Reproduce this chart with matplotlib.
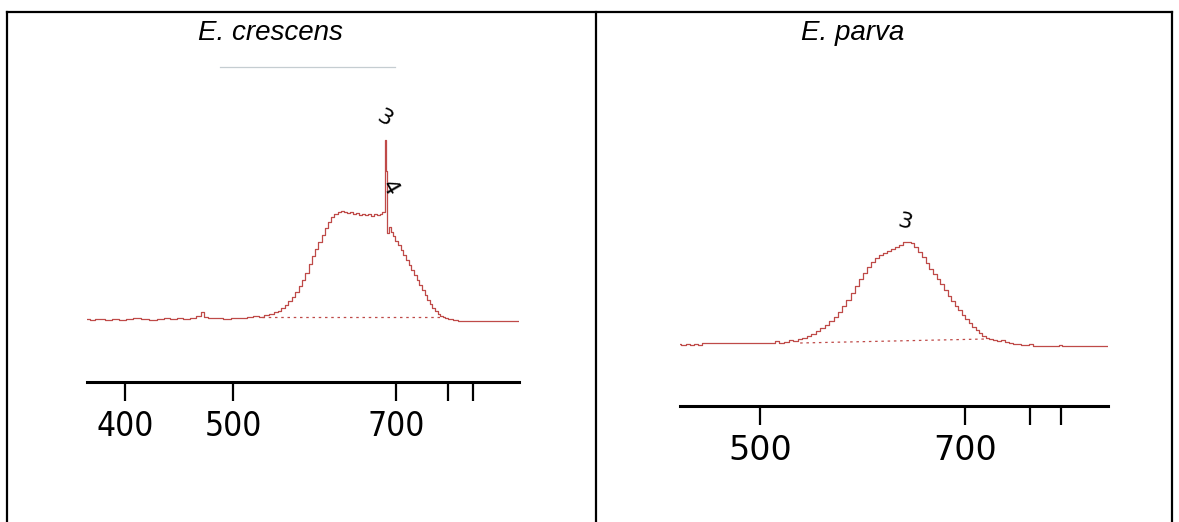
import matplotlib.pyplot as plt
from matplotlib.lines import Line2D
from matplotlib.ticker import FixedLocator, FixedFormatter, NullFormatter

W, H = 1179, 522
RED = '#bf4a48'

# E. crescens spectrum: wavelength (nm) and signal (arbitrary units)
crescens_nm = [370, 374, 378, 382, 386, 392, 398, 404, 410, 416, 424, 430, 436, 442,
               448, 454, 460, 466, 469, 472, 478, 486, 494, 502, 510, 518, 524, 530,
               536, 541, 546, 550, 554, 558, 562, 566, 570, 574, 578, 582, 586, 590,
               594, 598, 602, 606, 610, 614, 618, 622, 626, 630, 634, 638, 642, 646,
               650, 654, 658, 662, 666, 670, 674, 678, 682, 684, 686, 688, 690, 693,
               696, 700, 704, 708, 712, 716, 720, 724, 728, 732, 736, 740, 744, 748,
               752, 756, 760, 764, 768, 772, 776, 782, 790, 800, 820, 850, 880, 902]
crescens_signal = [2, 1, 2, 2, 1, 2, 1, 2, 3, 2, 1, 2, 3, 2,
                   3, 2, 3, 5, 9, 4, 3, 3, 2, 3, 3, 4, 5, 4,
                   6, 7, 9, 10, 13, 16, 20, 24, 29, 35, 41, 48, 57, 65,
                   72, 79, 86, 93, 99, 104, 107, 109, 110, 109, 108, 109, 107, 108,
                   106, 107, 106, 107, 105, 107, 106, 107, 109, 181, 150, 88, 94, 89,
                   85, 80, 76, 71, 66, 61, 56, 51, 46, 41, 36, 31, 26, 21,
                   17, 13, 10, 7, 5, 4, 3, 2, 1, 0, 0, 0, 0, 0]
crescens_base_nm = [531, 768]
crescens_base = [4, 4]
crescens_marks = [('3', 683, 203, -30), ('4', 691, 133, -60)]

# E. parva spectrum
parva_nm = [438, 441, 444, 447, 450, 453, 456, 460, 470, 480, 490, 500, 510, 514,
            518, 522, 526, 530, 534, 538, 542, 546, 550, 554, 558, 562, 566, 570,
            574, 578, 582, 586, 590, 594, 598, 602, 606, 610, 614, 618, 622, 626,
            630, 634, 638, 642, 646, 650, 654, 658, 662, 666, 670, 674, 678, 682,
            686, 690, 694, 698, 702, 706, 710, 714, 718, 722, 726, 730, 735, 740,
            745, 750, 755, 760, 765, 770, 775, 780, 785, 800, 815, 818, 822, 850, 885]
parva_signal = [2, 1, 2, 1, 2, 1, 3, 3, 3, 3, 3, 3, 3, 5,
                3, 4, 6, 5, 7, 8, 10, 12, 15, 18, 21, 25, 29, 34,
                40, 46, 53, 60, 67, 73, 79, 84, 88, 91, 93, 95, 97, 99,
                101, 104, 104, 103, 99, 94, 89, 83, 77, 72, 67, 62, 56, 50,
                45, 40, 36, 31, 27, 23, 19, 16, 13, 10, 8, 7, 6, 5,
                6, 4, 3, 2, 2, 1, 1, 2, 0, 0, 0, 1, 0, 0, 0]
parva_base_nm = [534, 724]
parva_base = [3, 7]
parva_marks = [('3', 634, 124, -15)]

minor_nm = [778, 819]


def fx(x):
    return x / W


def fy(y):
    return 1 - y / H


def panel(rect, nm, signal, base_nm, base, marks, xlim, ylim, ticks, stretch):
    ax = fig.add_axes(rect)
    ax.plot(nm, signal, color=RED, lw=0.9, drawstyle='steps-mid')
    ax.plot(base_nm, base, color=RED, lw=0.9, ls=(0, (2, 3)))
    for txt, x, y, rot in marks:
        ax.text(x, y, txt, fontsize=16, rotation=rot, ha='center', va='center',
                fontweight='medium')
    ax.set_xscale('log')
    ax.set_xlim(*xlim)
    ax.set_ylim(*ylim)
    ax.xaxis.set_major_locator(FixedLocator(ticks))
    ax.xaxis.set_major_formatter(FixedFormatter([str(t) for t in ticks]))
    ax.xaxis.set_minor_locator(FixedLocator(minor_nm))
    ax.xaxis.set_minor_formatter(NullFormatter())
    ax.tick_params(axis='x', which='both', direction='out', length=14, width=1.6,
                   pad=6, labelsize=24)
    for lab in ax.get_xticklabels():
        lab.set_fontstretch(stretch)
    ax.set_yticks([])
    for side in ('left', 'right', 'top'):
        ax.spines[side].set_visible(False)
    ax.spines['bottom'].set_linewidth(2.2)
    ax.patch.set_alpha(0)
    return ax


fig = plt.figure(figsize=(W / 100, H / 100), dpi=100)

panel([fx(87), fy(382), (519 - 87) / W, (382 - 100) / H],
      crescens_nm, crescens_signal, crescens_base_nm, crescens_base, crescens_marks,
      (369.8, 901.3), (-61, 221), [400, 500, 700], 'condensed')
panel([fx(680), fy(406), (1108 - 680) / W, (406 - 200) / H],
      parva_nm, parva_signal, parva_base_nm, parva_base, parva_marks,
      (438.5, 884.6), (-60, 146), [500, 700], 'normal')

# table frame around the two panels
for x0, y0, x1, y1 in [(7.5, 12, 7.5, 522), (596, 12, 596, 522),
                       (1172, 12, 1172, 522), (7.5, 12, 1172, 12)]:
    fig.add_artist(Line2D([fx(x0), fx(x1)], [fy(y0), fy(y1)], color='black', lw=1.6))

# faint rule under the left heading
fig.add_artist(Line2D([fx(220), fx(395)], [fy(67), fy(67)], color='#c5cdd1', lw=0.9))

fig.text(fx(270), fy(33), 'E. crescens', fontsize=20, style='italic',
         family='Liberation Sans', ha='center', va='center')
fig.text(fx(853), fy(33), 'E. parva', fontsize=20, style='italic',
         family='Liberation Sans', ha='center', va='center')

fig.savefig('out.png', dpi=100, facecolor='white')
